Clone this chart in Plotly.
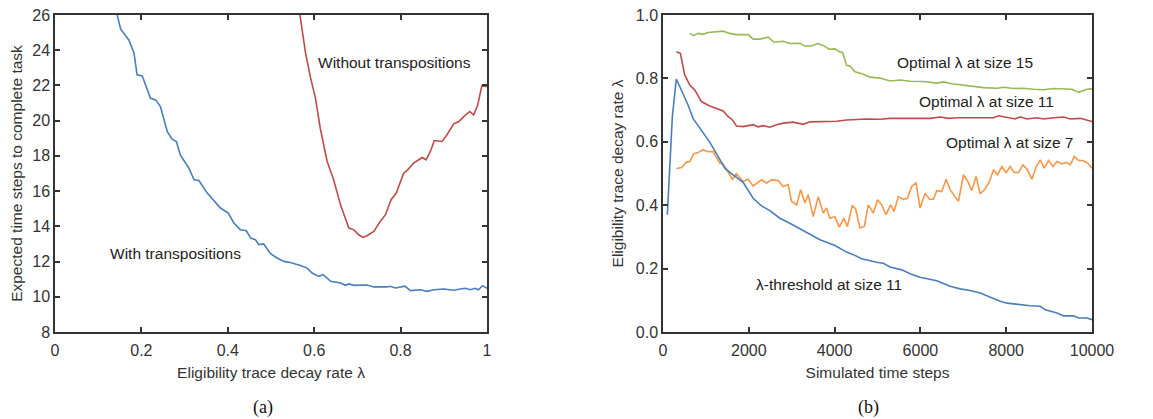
import plotly.graph_objects as go

# ---------------- Panel (a) data ----------------
with_lambda = [0.144, 0.152, 0.171, 0.183, 0.19, 0.202, 0.221, 0.233, 0.244, 0.26, 0.271, 0.281, 0.29, 0.31,
               0.322, 0.333, 0.352, 0.383, 0.401, 0.414, 0.429, 0.443, 0.453, 0.464, 0.472, 0.483, 0.499,
               0.514, 0.53, 0.545, 0.568, 0.584, 0.595, 0.611, 0.621, 0.638, 0.661, 0.672, 0.68, 0.692,
               0.722, 0.738, 0.769, 0.776, 0.788, 0.8, 0.81, 0.823, 0.846, 0.861, 0.877, 0.9, 0.923,
               0.938, 0.95, 0.961, 0.973, 0.98, 0.99, 1.0]
with_steps = [26.0, 25.19, 24.58, 23.83, 22.6, 22.54, 21.27, 21.18, 20.8, 19.38, 18.95, 18.82, 18.06, 17.3,
              16.64, 16.6, 15.9, 15.04, 14.75, 14.19, 13.81, 13.75, 13.33, 13.24, 12.96, 13.0, 12.45,
              12.2, 12.01, 11.95, 11.78, 11.63, 11.35, 11.16, 11.26, 10.88, 10.78, 10.65, 10.73, 10.65,
              10.67, 10.56, 10.56, 10.6, 10.5, 10.54, 10.6, 10.35, 10.4, 10.31, 10.4, 10.44, 10.37,
              10.44, 10.48, 10.4, 10.48, 10.4, 10.63, 10.48]

without_lambda = [0.567, 0.572, 0.58, 0.591, 0.603, 0.614, 0.63, 0.645, 0.661, 0.68, 0.692, 0.703, 0.713,
                  0.722, 0.738, 0.753, 0.765, 0.778, 0.79, 0.807, 0.815, 0.83, 0.85, 0.859, 0.869, 0.878,
                  0.896, 0.907, 0.923, 0.935, 0.946, 0.96, 0.969, 0.978, 0.988, 1.0]
without_steps = [26.0, 25.05, 23.83, 22.5, 21.27, 19.57, 17.68, 16.64, 15.22, 13.9, 13.8, 13.52, 13.37,
                 13.47, 13.71, 14.28, 14.66, 15.51, 15.89, 17.02, 17.17, 17.59, 17.91, 17.78, 18.25, 18.87,
                 18.82, 19.19, 19.82, 19.95, 20.23, 20.52, 20.33, 20.84, 21.97, 21.94]

# ---------------- Panel (b) data ----------------
s15_t = [623, 716, 817, 934, 1051, 1167, 1401, 1556, 1712, 1984, 2101, 2257, 2451, 2591, 2802, 2957, 3191,
         3307, 3463, 3603, 3735, 3875, 4008, 4109, 4187, 4280, 4358, 4475, 4669, 4825, 5058, 5292, 5525,
         5759, 6070, 6381, 6537, 6732, 7004, 7237, 7471, 7782, 7938, 8171, 8405, 8638, 8872, 9105, 9338,
         9533, 9689, 9883, 10000]
s15_l = [0.942, 0.935, 0.942, 0.939, 0.945, 0.947, 0.949, 0.942, 0.938, 0.938, 0.924, 0.924, 0.93, 0.914,
         0.917, 0.91, 0.911, 0.902, 0.902, 0.91, 0.904, 0.892, 0.893, 0.884, 0.882, 0.841, 0.839, 0.821,
         0.813, 0.804, 0.801, 0.792, 0.795, 0.791, 0.79, 0.785, 0.789, 0.783, 0.779, 0.776, 0.771, 0.769,
         0.772, 0.768, 0.769, 0.766, 0.764, 0.768, 0.766, 0.766, 0.756, 0.766, 0.767]

s11_t = [311, 405, 506, 623, 739, 895, 1089, 1245, 1401, 1517, 1619, 1712, 1868, 2101, 2218, 2335, 2490,
         2646, 2802, 3035, 3268, 3424, 3735, 4047, 4280, 4514, 4747, 5058, 5292, 5603, 5914, 6226, 6459,
         6654, 6848, 7160, 7471, 7704, 7821, 8016, 8210, 8327, 8482, 8716, 8872, 9105, 9338, 9494, 9728,
         10000]
s11_l = [0.884, 0.879, 0.811, 0.779, 0.764, 0.727, 0.713, 0.706, 0.697, 0.68, 0.669, 0.65, 0.648, 0.654,
         0.647, 0.651, 0.646, 0.654, 0.659, 0.662, 0.655, 0.663, 0.664, 0.665, 0.669, 0.671, 0.672, 0.671,
         0.674, 0.674, 0.673, 0.674, 0.678, 0.674, 0.676, 0.676, 0.674, 0.676, 0.682, 0.678, 0.672, 0.679,
         0.672, 0.676, 0.672, 0.676, 0.678, 0.672, 0.674, 0.664]

thr_t = [101, 218, 311, 428, 584, 700, 895, 1089, 1284, 1440, 1634, 1868, 2101, 2296, 2490, 2724, 2957,
         3268, 3658, 4008, 4280, 4436, 4630, 4981, 5136, 5292, 5564, 5759, 5992, 6381, 6693, 6926, 7160,
         7393, 7626, 7860, 8016, 8288, 8560, 8794, 8911, 9183, 9338, 9572, 9689, 9883, 10000]
thr_l = [0.37, 0.68, 0.798, 0.764, 0.716, 0.674, 0.638, 0.599, 0.554, 0.517, 0.496, 0.472, 0.422, 0.398,
         0.383, 0.359, 0.343, 0.319, 0.291, 0.273, 0.252, 0.244, 0.231, 0.22, 0.217, 0.205, 0.196, 0.184,
         0.173, 0.162, 0.144, 0.136, 0.131, 0.123, 0.11, 0.097, 0.091, 0.086, 0.083, 0.081, 0.07, 0.06,
         0.051, 0.051, 0.044, 0.044, 0.039]

s7_t = [311, 428, 545, 623, 716, 817, 934, 1051, 1167, 1323, 1401, 1494, 1619, 1712, 1868, 1984, 2101, 2296,
        2412, 2529, 2685, 2802, 2918, 2996, 3113, 3210, 3307, 3385, 3502, 3619, 3735, 3813, 3891, 4008,
        4109, 4218, 4296, 4412, 4490, 4591, 4693, 4786, 4903, 5004, 5097, 5198, 5307, 5385, 5486, 5603,
        5696, 5798, 5899, 5992, 6109, 6210, 6304, 6381, 6498, 6599, 6693, 6809, 6887, 7004, 7105, 7198,
        7300, 7393, 7510, 7611, 7704, 7798, 7899, 8000, 8093, 8187, 8288, 8389, 8482, 8599, 8700, 8794,
        8887, 8988, 9089, 9183, 9300, 9401, 9494, 9588, 9689, 9790, 9899, 10000]
s7_l = [0.515, 0.519, 0.536, 0.538, 0.562, 0.566, 0.575, 0.569, 0.569, 0.533, 0.53, 0.509, 0.482, 0.499,
        0.475, 0.482, 0.461, 0.48, 0.47, 0.48, 0.478, 0.459, 0.465, 0.412, 0.401, 0.449, 0.407, 0.433,
        0.364, 0.427, 0.375, 0.391, 0.359, 0.364, 0.331, 0.359, 0.333, 0.398, 0.388, 0.328, 0.333, 0.401,
        0.375, 0.417, 0.401, 0.37, 0.401, 0.38, 0.427, 0.418, 0.422, 0.459, 0.47, 0.391, 0.438, 0.419,
        0.419, 0.446, 0.443, 0.482, 0.449, 0.427, 0.412, 0.496, 0.475, 0.446, 0.491, 0.436, 0.451, 0.475,
        0.512, 0.496, 0.522, 0.503, 0.522, 0.503, 0.503, 0.527, 0.514, 0.482, 0.522, 0.543, 0.517, 0.541,
        0.522, 0.538, 0.53, 0.535, 0.527, 0.554, 0.541, 0.541, 0.533, 0.517]

left_yticks = [8, 10, 12, 14, 16, 18, 20, 22, 24, 26]
left_xticks = [0, 0.2, 0.4, 0.6, 0.8, 1]
left_xtext = ["0", "0.2", "0.4", "0.6", "0.8", "1"]
right_yticks = [0, 0.2, 0.4, 0.6, 0.8, 1.0]
right_ytext = ["0.0", "0.2", "0.4", "0.6", "0.8", "1.0"]
right_xticks = [0, 2000, 4000, 6000, 8000, 10000]
right_xtext = ["0", "2000", "4000", "6000", "8000", "10000"]

BLUE = "#4a7ebb"
RED = "#be4b48"
GREEN = "#98b954"
ORANGE = "#f79646"
FONT = "Liberation Sans"
TXT = "#222222"
AX = "#333333"

fig = go.Figure()
lw = 1.6
fig.add_trace(go.Scatter(x=with_lambda, y=with_steps, mode="lines", line=dict(color=BLUE, width=lw),
                         xaxis="x", yaxis="y", showlegend=False))
fig.add_trace(go.Scatter(x=without_lambda, y=without_steps, mode="lines", line=dict(color=RED, width=lw),
                         xaxis="x", yaxis="y", showlegend=False))
fig.add_trace(go.Scatter(x=s15_t, y=s15_l, mode="lines", line=dict(color=GREEN, width=lw),
                         xaxis="x2", yaxis="y2", showlegend=False))
fig.add_trace(go.Scatter(x=s11_t, y=s11_l, mode="lines", line=dict(color=RED, width=lw),
                         xaxis="x2", yaxis="y2", showlegend=False))
fig.add_trace(go.Scatter(x=s7_t, y=s7_l, mode="lines", line=dict(color=ORANGE, width=lw),
                         xaxis="x2", yaxis="y2", showlegend=False))
fig.add_trace(go.Scatter(x=thr_t, y=thr_l, mode="lines", line=dict(color=BLUE, width=lw),
                         xaxis="x2", yaxis="y2", showlegend=False))

OFF = 8            # the page has an 8px body margin
W, H = 1153 - OFF, 419 - OFF


def px_x(p):
    return (p - OFF) / W


def px_y(p):
    return 1 - (p - OFF) / H


y_dom = [px_y(332), px_y(15)]

axis_common = dict(showline=True, linecolor=AX, linewidth=1.5, mirror="ticks", ticks="inside",
                   ticklen=5, tickwidth=1.5, tickcolor=AX, showgrid=False, zeroline=False,
                   automargin=False, ticklabeloverflow="allow",
                   tickfont=dict(family=FONT, size=16, color=AX))
title_font = dict(family=FONT, size=15.5, color=AX)

fig.update_layout(
    width=W, height=H, margin=dict(l=0, r=0, t=0, b=0),
    paper_bgcolor="white", plot_bgcolor="white",
    font=dict(family=FONT, size=15, color=TXT),
    xaxis=dict(domain=[px_x(55), px_x(487)], range=[0, 1], tickvals=left_xticks, ticktext=left_xtext,
               anchor="y", ticklabelstandoff=3,
               title=dict(text="Eligibility trace decay rate λ", font=title_font, standoff=9),
               **axis_common),
    yaxis=dict(domain=y_dom, range=[8, 26], tickvals=left_yticks, anchor="x",
               title=dict(text="Expected time steps to complete task", font=title_font, standoff=6),
               **axis_common),
    xaxis2=dict(domain=[px_x(663), px_x(1092)], range=[0, 10000], tickvals=right_xticks,
                ticktext=right_xtext, anchor="y2", ticklabelstandoff=3,
                title=dict(text="Simulated time steps", font=title_font, standoff=9),
                **axis_common),
    yaxis2=dict(domain=y_dom, range=[0, 1], tickvals=right_yticks, ticktext=right_ytext, anchor="x2",
                title=dict(text="Eligibility trace decay rate λ", font=title_font, standoff=8),
                **axis_common),
)

ann_font = dict(family=FONT, size=15.5, color=TXT)
annotations = [
    dict(x=0.787, y=23.33, xref="x", yref="y", text="Without transpositions"),
    dict(x=0.28, y=12.43, xref="x", yref="y", text="With transpositions"),
    dict(x=7040, y=0.849, xref="x2", yref="y2", text="Optimal λ at size 15"),
    dict(x=7552, y=0.726, xref="x2", yref="y2", text="Optimal λ at size 11"),
    dict(x=8089, y=0.599, xref="x2", yref="y2", text="Optimal λ at size 7"),
    dict(x=3869, y=0.151, xref="x2", yref="y2", text="λ-threshold at size 11"),
]
for a in annotations:
    fig.add_annotation(showarrow=False, font=ann_font, xanchor="center", yanchor="middle", **a)

cap_font = dict(family="Liberation Serif", size=18, color="#111111")
fig.add_annotation(x=px_x(263), y=px_y(407), xref="paper", yref="paper", text="(a)", showarrow=False,
                   xanchor="center", yanchor="middle", font=cap_font)
fig.add_annotation(x=px_x(868), y=px_y(407), xref="paper", yref="paper", text="(b)", showarrow=False,
                   xanchor="center", yanchor="middle", font=cap_font)

fig.write_html("out.html")
